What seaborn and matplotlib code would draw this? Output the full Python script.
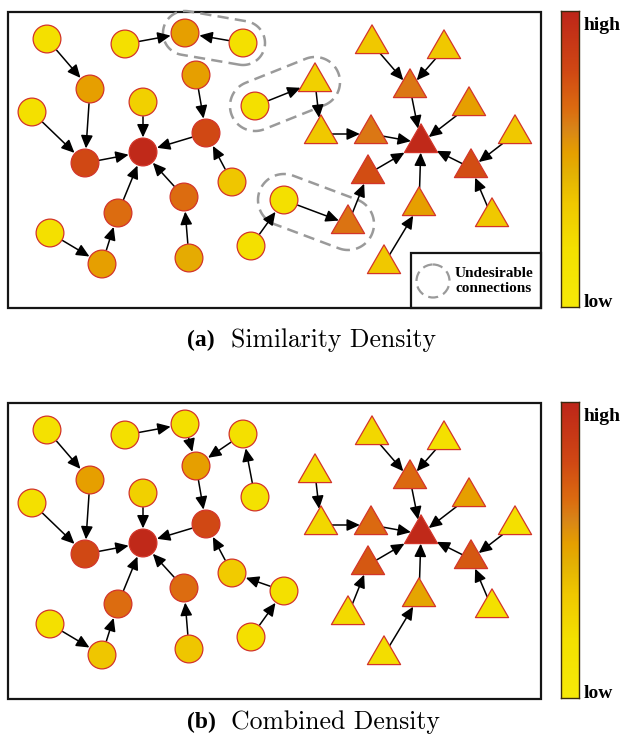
import numpy as np
import pandas as pd
import matplotlib
matplotlib.use("Agg")
import matplotlib.pyplot as plt
import seaborn as sns
from matplotlib.colors import LinearSegmentedColormap
from matplotlib.patches import Rectangle, Circle
from matplotlib.path import Path

# ---------------- data ----------------
circle_x = [47, 125, 185, 243, 90, 32, 143, 196, 85, 143, 206, 232, 184, 118, 50, 102, 189, 255, 284, 251]
circle_y = [39, 44, 33, 43, 89, 112, 102, 75, 163, 152, 133, 182, 197, 213, 233, 264, 258, 106, 200, 246]
triangle_x = [372, 444, 410, 469, 515, 421, 315, 321, 371, 368, 471, 419, 348, 492, 384]
triangle_y = [44, 49, 88, 106, 134, 143, 82, 134, 134, 174, 168, 206, 224, 217, 264]

# density values (0 = low, 1 = high)
circle_density_a = [0.2, 0.2, 0.52, 0.2, 0.52, 0.2, 0.3, 0.52, 0.8, 0.98, 0.8, 0.36, 0.67, 0.67, 0.2, 0.52, 0.48, 0.2, 0.2, 0.2]
circle_density_b = [0.18, 0.2, 0.2, 0.2, 0.52, 0.2, 0.3, 0.52, 0.8, 0.98, 0.8, 0.33, 0.67, 0.67, 0.2, 0.36, 0.36, 0.18, 0.2, 0.2]
triangle_density_a = [0.35, 0.35, 0.64, 0.52, 0.35, 0.98, 0.3, 0.35, 0.64, 0.78, 0.78, 0.52, 0.65, 0.35, 0.35]
triangle_density_b = [0.26, 0.2, 0.68, 0.52, 0.2, 0.98, 0.22, 0.26, 0.68, 0.74, 0.74, 0.5, 0.24, 0.2, 0.22]

edges_a = [("c1", "c5"), ("c2", "c3"), ("c4", "c3"), ("c5", "c9"), ("c6", "c9"), ("c9", "c10"),
           ("c7", "c10"), ("c8", "c11"), ("c11", "c10"), ("c12", "c11"), ("c13", "c10"), ("c14", "c10"),
           ("c15", "c16"), ("c16", "c14"), ("c17", "c13"), ("c20", "c19"), ("c18", "t7"), ("c19", "t13"),
           ("t1", "t3"), ("t2", "t3"), ("t3", "t6"), ("t4", "t6"), ("t5", "t11"), ("t11", "t6"),
           ("t14", "t11"), ("t9", "t6"), ("t8", "t9"), ("t7", "t8"), ("t10", "t6"), ("t13", "t10"),
           ("t12", "t6"), ("t15", "t12")]
edges_b = [("c1", "c5"), ("c2", "c3"), ("c3", "c8"), ("c4", "c8"), ("c18", "c4"), ("c5", "c9"),
           ("c6", "c9"), ("c9", "c10"), ("c7", "c10"), ("c8", "c11"), ("c11", "c10"), ("c12", "c11"),
           ("c19", "c12"), ("c20", "c19"), ("c13", "c10"), ("c14", "c10"), ("c15", "c16"), ("c16", "c14"),
           ("c17", "c13"),
           ("t1", "t3"), ("t2", "t3"), ("t3", "t6"), ("t4", "t6"), ("t5", "t11"), ("t11", "t6"),
           ("t14", "t11"), ("t9", "t6"), ("t8", "t9"), ("t7", "t8"), ("t10", "t6"), ("t13", "t10"),
           ("t12", "t6"), ("t15", "t12")]

undesirable_a = [("c3", "c4"), ("c18", "t7"), ("c19", "t13")]

captions = [("(a)", "Similarity Density"), ("(b)", "Combined Density")]
bar_labels = ["high", "low"]
legend_text = "Undesirable\nconnections"

# ---------------- style ----------------
sns.set_theme(style="white")
plt.rcParams["font.family"] = ["Liberation Serif", "DejaVu Serif"]
plt.rcParams["text.color"] = "black"

cmap = LinearSegmentedColormap.from_list("density", [
    (0.00, "#F7EA08"), (0.20, "#F4E000"), (0.35, "#F0C800"), (0.45, "#E4B204"),
    (0.52, "#E6A000"), (0.60, "#D98618"), (0.67, "#DC6C10"), (0.80, "#D04814"),
    (1.00, "#BE2619")])

W, H = 622, 735
fig = plt.figure(figsize=(W / 100, H / 100), dpi=100)
ax = fig.add_axes([0, 0, 1, 1])
ax.set_xlim(0, W)
ax.set_ylim(H, 0)
ax.axis("off")

R_CIRC = 14.6   # px
R_TRI = 19.3    # px (circumradius)
tri_path = Path([(0, 1), (-0.866, -0.5), (0.866, -0.5), (0, 1)],
                [Path.MOVETO, Path.LINETO, Path.LINETO, Path.CLOSEPOLY])

panel_offsets = [0, 391]
circle_dens = [circle_density_a, circle_density_b]
tri_dens = [triangle_density_a, triangle_density_b]
edge_sets = [edges_a, edges_b]


def node_pos(name, off):
    i = int(name[1:]) - 1
    if name[0] == "c":
        return np.array([circle_x[i], circle_y[i] + off], float)
    return np.array([triangle_x[i], triangle_y[i] + off], float)


def boundary_dist(name, d):
    if name[0] == "c":
        return R_CIRC
    normals = np.array([[0, 1], [-0.866, -0.5], [0.866, -0.5]])
    proj = normals @ d
    return (R_TRI / 2) / proj.max()


def capsule(p1, p2, r, n=60):
    u = p2 - p1
    a = np.arctan2(u[1], u[0])
    t = np.linspace(0, np.pi, n)
    ang2 = a + np.pi / 2 - t
    ang1 = a - np.pi / 2 - t
    pts = np.vstack([
        np.column_stack([p2[0] + r * np.cos(ang2), p2[1] + r * np.sin(ang2)]),
        np.column_stack([p1[0] + r * np.cos(ang1), p1[1] + r * np.sin(ang1)]),
    ])
    return np.vstack([pts, pts[:1]])


for k, off in enumerate(panel_offsets):
    # frame
    ax.add_patch(Rectangle((8, 12 + off), 533, 296, fill=False, lw=1.6, ec="#151515", zorder=1))

    # arrows
    for s, t in edge_sets[k]:
        ps, pt = node_pos(s, off), node_pos(t, off)
        d = (pt - ps) / np.linalg.norm(pt - ps)
        start = ps + d * boundary_dist(s, d)
        end = pt - d * boundary_dist(t, -d)
        ax.annotate("", xy=end, xytext=start,
                    arrowprops=dict(arrowstyle="-|>,head_length=0.65,head_width=0.3",
                                    color="black", lw=1.1, shrinkA=0, shrinkB=0,
                                    mutation_scale=12), zorder=2)

    # nodes
    dfc = pd.DataFrame({"x": circle_x, "y": np.array(circle_y) + off, "d": circle_dens[k]})
    dft = pd.DataFrame({"x": triangle_x, "y": np.array(triangle_y) + off, "d": tri_dens[k]})
    sns.scatterplot(data=dfc, x="x", y="y", hue="d", palette=cmap, hue_norm=(0, 1),
                    s=400, marker="o", edgecolor="#D3352A", linewidth=0.9,
                    legend=False, ax=ax, zorder=3)
    sns.scatterplot(data=dft, x="x", y="y", hue="d", palette=cmap, hue_norm=(0, 1),
                    s=760, marker=tri_path, edgecolor="#D3352A", linewidth=0.9,
                    legend=False, ax=ax, zorder=3)

    # colour bar
    cax = fig.add_axes([561 / W, 1 - (307 + off) / H, 18 / W, 296 / H])
    cax.imshow(np.linspace(0, 1, 256)[:, None], aspect="auto", cmap=cmap, origin="lower")
    cax.set_xticks([])
    cax.set_yticks([])
    for sp in cax.spines.values():
        sp.set_visible(True)
        sp.set_color("#3a2a10")
        sp.set_linewidth(1.0)
    ax.text(584, 30 + off, bar_labels[0], fontsize=14, fontweight="bold", ha="left", va="baseline")
    ax.text(584, 307 + off, bar_labels[1], fontsize=14, fontweight="bold", ha="left", va="baseline")

    # caption
    lab, title = captions[k]
    yc = 340 + off - (0 if k == 0 else 9)
    ax.text(187, yc, lab, fontsize=17, fontweight="bold", ha="left", va="center")
    ax.text(231, yc, title, fontsize=18.5, family="cmr10", ha="left", va="center")

# undesirable connections (panel a)
for (a_, b_), r in zip(undesirable_a, [22, 25, 26]):
    pts = capsule(node_pos(a_, 0), node_pos(b_, 0), r)
    ax.plot(pts[:, 0], pts[:, 1], color="#9a9a9a", lw=1.8, ls=(0, (4.5, 2.5)), zorder=1.5)

# legend box
ax.add_patch(Rectangle((411, 253), 130, 55, fill=False, lw=1.6, ec="#151515", zorder=4))
ax.add_patch(Circle((433, 281), 16.5, fill=False, lw=1.6, ec="#9a9a9a", ls=(0, (4.5, 2.5)), zorder=4))
ax.text(494, 281, legend_text, fontsize=11, fontweight="bold", ha="center", va="center",
        linespacing=1.15, zorder=4)

fig.savefig("out.png", dpi=100)
